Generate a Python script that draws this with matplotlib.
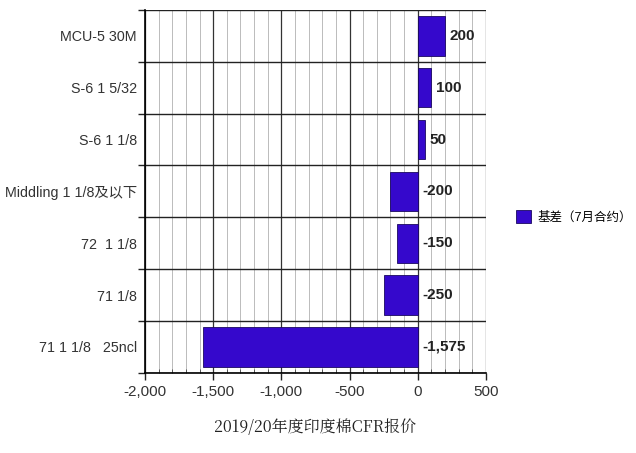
import matplotlib.pyplot as plt
import numpy as np
from matplotlib.ticker import MultipleLocator, FuncFormatter

plt.rcParams['font.family'] = ['Liberation Sans', 'Noto Sans CJK SC', 'DejaVu Sans']

categories = ['MCU-5 30M', 'S-6 1 5/32', 'S-6 1 1/8', 'Middling 1 1/8及以下',
              '72  1 1/8', '71 1/8', '71 1 1/8   25ncl']
values = [200, 100, 50, -200, -150, -250, -1575]
value_labels = ['200', '100', '50', '-200', '-150', '-250', '-1,575']
series_name = '基差（7月合约）'
xlabel = '2019/20年度印度棉CFR报价'

fig = plt.figure(figsize=(6.36, 4.53), dpi=100)
ax = fig.add_axes([0.228, 0.177, 0.536, 0.801])

y = np.arange(len(categories))[::-1]
bars = ax.barh(y, values, height=0.76, color='#3508cc', edgecolor='#1a0860',
               linewidth=0.6, label=series_name, zorder=3)

for yi, v, lab in zip(y, values, value_labels):
    xpos = v + 35 if v > 0 else 35
    ax.text(xpos, yi, lab, va='center', ha='left', fontsize=11,
            fontweight='bold', color='#222222', zorder=4)

ax.set_xlim(-2000, 500)
ax.set_ylim(-0.5, len(categories) - 0.5)
ax.xaxis.set_major_locator(MultipleLocator(500))
ax.xaxis.set_minor_locator(MultipleLocator(100))
ax.xaxis.set_major_formatter(FuncFormatter(lambda v, p: f'{int(v):,}'))
ax.grid(which='minor', axis='x', color='#bbbbbb', linewidth=0.7, zorder=0)
ax.grid(which='major', axis='x', color='#333333', linewidth=0.9, zorder=1)

ax.set_yticks(y)
ax.set_yticklabels(categories, fontsize=10.3, color='#333333')
ax.set_yticks(np.arange(len(categories) + 1) - 0.5, minor=True)
ax.tick_params(axis='y', which='major', length=0, pad=6)
ax.tick_params(axis='y', which='minor', length=5, width=1, color='#222222')
ax.grid(which='minor', axis='y', color='#222222', linewidth=1, zorder=2)

ax.tick_params(axis='x', which='major', length=5, width=1, color='#222222',
               labelsize=11, labelcolor='#333333')
ax.tick_params(axis='x', which='minor', length=3, direction='in', color='#444444')

for s in ['top', 'right']:
    ax.spines[s].set_visible(False)
ax.spines['left'].set_linewidth(1.2)
ax.spines['bottom'].set_linewidth(1.2)

ax.set_xlabel(xlabel, fontsize=11.5, color='#222222', labelpad=14,
              family=['Noto Serif CJK SC', 'Noto Sans CJK SC'])

ax.legend(loc='center left', bbox_to_anchor=(1.075, 0.43), frameon=False,
          handlelength=1.2, handleheight=1.3, fontsize=9, handletextpad=0.5,
          borderaxespad=0)

fig.savefig('out.png', dpi=100)
